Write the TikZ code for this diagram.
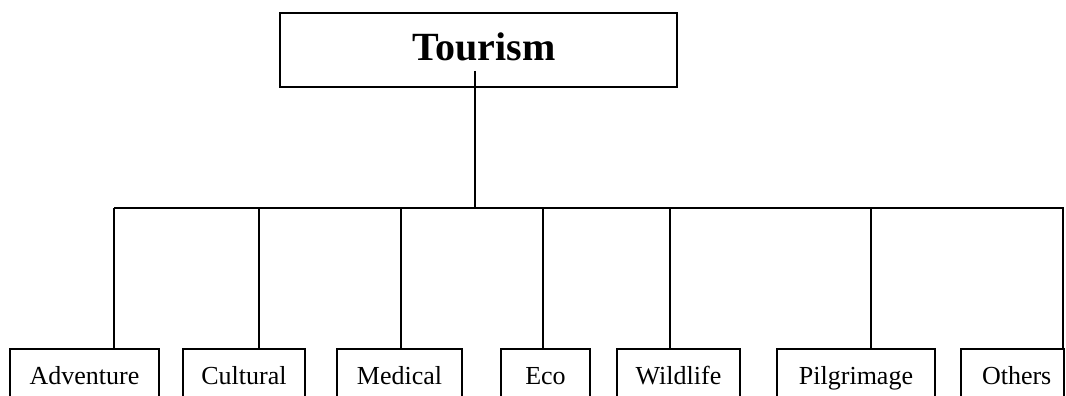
\documentclass[tikz,border=0pt]{standalone}
\usepackage{fontspec}
\setmainfont{Liberation Serif}
\begin{document}
\begin{tikzpicture}[x=1pt,y=-1pt,
  topbox/.style={draw,line width=2pt,minimum width=397pt,minimum height=74pt,inner sep=0pt,text height=30pt,text depth=8pt,font=\fontsize{40}{44}\selectfont\bfseries},
  leaf/.style={draw,line width=1.8pt,minimum height=52pt,inner sep=0pt,text height=18pt,text depth=0pt,font=\fontsize{26}{30}\selectfont},
  wire/.style={line width=1.8pt}]
\useasboundingbox (0,0) rectangle (1066,396);
\clip (0,0) rectangle (1066,396);
\node[topbox] (top) at (478.5,50) {\hspace{11pt}Tourism};
\node[leaf,minimum width=149pt] (adv) at (84.5,375) {Adventure};
\node[leaf,minimum width=122pt] (cul) at (244,375) {Cultural};
\node[leaf,minimum width=125pt] (med) at (399.5,375) {Medical};
\node[leaf,minimum width=89pt] (eco) at (545.5,375) {Eco};
\node[leaf,minimum width=123pt] (wil) at (678.5,375) {Wildlife};
\node[leaf,minimum width=158pt] (pil) at (856,375) {Pilgrimage};
\node[leaf,minimum width=103pt,text width=103pt,align=left] (oth) at (1012.5,375) {\hspace{21pt}Others};
\coordinate (stem) at (475,71);
\coordinate (hub) at (475,208);
\coordinate (hl) at (114,208);
\coordinate (hr) at (1064,208);
\coordinate (tadv) at (114,208);
\coordinate (tcul) at (259,208);
\coordinate (tmed) at (401,208);
\coordinate (teco) at (543,208);
\coordinate (twil) at (670,208);
\coordinate (tpil) at (871,208);
\coordinate (toth) at (1063,208);
\draw[wire] (stem) -- (hub);
\draw[wire] (hl) -- (hr);
\foreach \t/\n in {tadv/adv,tcul/cul,tmed/med,teco/eco,twil/wil,tpil/pil,toth/oth}
  \draw[wire] (\t) -- (\t |- \n.north);
\end{tikzpicture}
\end{document}
